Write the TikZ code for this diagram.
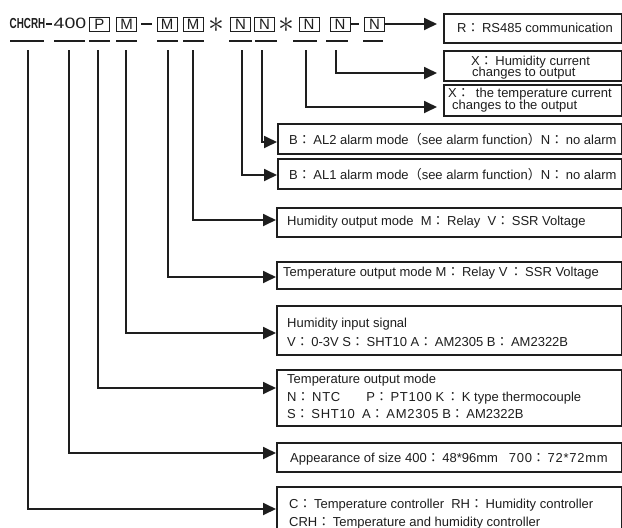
\documentclass[tikz,border=0pt]{standalone}
\usepackage{fontspec}
\setmainfont{Liberation Sans}
\newfontfamily\cjk{Noto Sans CJK TC}
\newfontfamily\cjkp{Noto Sans CJK SC}
\usetikzlibrary{arrows.meta}
\newcommand\cc{{\cjk ：}\hspace{2.5pt}}
\newcommand\lpar{{\cjkp （}}
\newcommand\rpar{{\cjkp ）}}
\newcommand\wide[1]{{\addfontfeature{LetterSpace=6}#1}}
\definecolor{ink}{RGB}{30,30,30}
\begin{document}
\begin{tikzpicture}[x=1pt,y=-1pt,
  lbl/.style={anchor=base west, inner sep=0pt, font=\fontsize{13}{15}\selectfont, text=ink},
  rbox/.style={draw=ink, line width=1.8pt, anchor=north west, inner sep=0pt},
  hbox/.style={draw=ink, line width=0.9pt, minimum width=20pt, minimum height=14pt, inner sep=0pt, font=\fontsize{15}{15}\selectfont, text=ink},
  htext/.style={inner sep=0pt, font=\fontsize{15}{15}\selectfont, text=ink},
  under/.style={draw=ink, line width=2pt},
  conn/.style={draw=ink, line width=1.8pt, -{Triangle[length=13pt,width=12pt]}}]
\useasboundingbox (0,0) rectangle (622,528);
\clip (0,0) rectangle (622,528);
\fill[white] (0,0) rectangle (622,528);

% header
\node[htext] (hc) at (27.5,23.5) {\scalebox{0.68}[1]{\bfseries\fontsize{14.5}{15}\selectfont CHCRH}};
\node[htext] (hd) at (49,24) {\rule{6pt}{1.3pt}};
\node[htext] (h4) at (70,23.5) {\scalebox{1.3}[1]{400}};
\node[hbox] (bP) at (99.5,24) {P};
\node[hbox] (bM1) at (126.5,24) {M};
\node[htext] (d2) at (146.5,24) {\rule{11pt}{1.4pt}};
\node[hbox] (bM2) at (167,24) {M};
\node[hbox] (bM3) at (193,24) {M};
\node[htext] (s1) at (216,25) {\scalebox{2.2}{$\ast$}};
\node[hbox] (bN1) at (240.5,24) {N};
\node[hbox] (bN2) at (264.5,24) {N};
\node[htext] (s2) at (286,25) {\scalebox{2.2}{$\ast$}};
\node[hbox] (bN3) at (309,24) {N};
\node[hbox] (bN4) at (340,24) {N};
\node[htext] (d3) at (355,24) {\rule{8pt}{1.4pt}};
\node[hbox] (bN5) at (374.5,24) {N};

% underlines
\draw[under] (10,41) -- (44,41);
\draw[under] (54,41) -- (85,41);
\draw[under] (89,41) -- (110,41);
\draw[under] (116,41) -- (137,41);
\draw[under] (157,41) -- (178,41);
\draw[under] (183,41) -- (204,41);
\draw[under] (229,41) -- (252,41);
\draw[under] (255,41) -- (277,41);
\draw[under] (293,41) -- (317,41);
\draw[under] (326,41) -- (348,41);
\draw[under] (363,41) -- (383,41);

% right boxes
\node[rbox, minimum width=178pt, minimum height=29pt] (b1) at (443,13) {};
\node[rbox, minimum width=178pt, minimum height=30pt] (b2) at (443,50) {};
\node[rbox, minimum width=178pt, minimum height=31pt] (b3) at (443,84) {};
\node[rbox, minimum width=344pt, minimum height=30pt] (b4) at (277,123) {};
\node[rbox, minimum width=344pt, minimum height=30pt] (b5) at (277,158) {};
\node[rbox, minimum width=345pt, minimum height=29pt] (b6) at (276,207) {};
\node[rbox, minimum width=345pt, minimum height=27pt] (b7) at (276,261) {};
\node[rbox, minimum width=345pt, minimum height=49pt] (b8) at (276,305) {};
\node[rbox, minimum width=345pt, minimum height=56pt] (b9) at (276,369) {};
\node[rbox, minimum width=345pt, minimum height=29pt] (b10) at (276,442) {};
\node[rbox, minimum width=345pt, minimum height=54pt] (b11) at (276,486) {};

% texts
\node[lbl] (t1) at (457,32) {R\cc RS485 communication};
\node[lbl] (t2a) at (471,65) {X\cc Humidity current};
\node[lbl] (t2b) at (472,76.5) {changes to output};
\node[lbl] (t3a) at (448,97) {X\cc\ the temperature current};
\node[lbl] (t3b) at (452,109) {changes to the output};
\node[lbl] (t4) at (289,144) {B\cc AL2 alarm mode\lpar see alarm function\rpar N\cc no alarm};
\node[lbl] (t5) at (289,179) {B\cc AL1 alarm mode\lpar see alarm function\rpar N\cc no alarm};
\node[lbl] (t6) at (287,225) {Humidity output mode\ \ M\cc Relay\ \ V\cc SSR Voltage};
\node[lbl] (t7) at (283,276) {Temperature output mode M\cc Relay V\,\cc SSR Voltage};
\node[lbl] (t8a) at (287,327) {Humidity input signal};
\node[lbl] (t8b) at (287,346) {V\cc 0-3V S\cc SHT10 A\cc AM2305 B\cc AM2322B};
\node[lbl] (t9a) at (287,383) {Temperature output mode};
\node[lbl] (t9b) at (287,401) {N\cc \wide{NTC}\qquad P\cc \wide{PT100}\ K\,\cc K type thermocouple};
\node[lbl] (t9c) at (287,418) {S\cc \wide{SHT10}\ \ A\cc \wide{AM2305}\ B\cc AM2322B};
\node[lbl] (t10) at (290,462) {Appearance of size 400\cc 48*96mm\ \ \ \wide{700}\cc \wide{72*72mm}};
\node[lbl] (t11a) at (289,508) {C\cc Temperature controller\ \ RH\cc Humidity controller};
\node[lbl] (t11b) at (289,526) {CRH\cc Temperature and humidity controller};

% connector coordinates
\coordinate (v1) at (28,50);
\coordinate (v2) at (69,50);
\coordinate (v3) at (98,50);
\coordinate (v4) at (126,50);
\coordinate (v5) at (168,50);
\coordinate (v6) at (193,50);
\coordinate (v7) at (242,50);
\coordinate (v8) at (262,50);
\coordinate (v9) at (306,50);
\coordinate (v10) at (336,50);
\coordinate (e1) at (437,24);
\coordinate (e2) at (437,73);
\coordinate (e3) at (437,107);
\coordinate (e4) at (277,142);
\coordinate (e5) at (277,175);
\coordinate (e6) at (276,220);
\coordinate (e7) at (276,277);
\coordinate (e8) at (276,333);
\coordinate (e9) at (276,388);
\coordinate (e10) at (276,453);
\coordinate (e11) at (276,509);

\draw[conn] (bN5.east) -- (e1);
\draw[conn] (v10) |- (e2);
\draw[conn] (v9) |- (e3);
\draw[conn] (v8) |- (e4);
\draw[conn] (v7) |- (e5);
\draw[conn] (v6) |- (e6);
\draw[conn] (v5) |- (e7);
\draw[conn] (v4) |- (e8);
\draw[conn] (v3) |- (e9);
\draw[conn] (v2) |- (e10);
\draw[conn] (v1) |- (e11);
\end{tikzpicture}
\end{document}
